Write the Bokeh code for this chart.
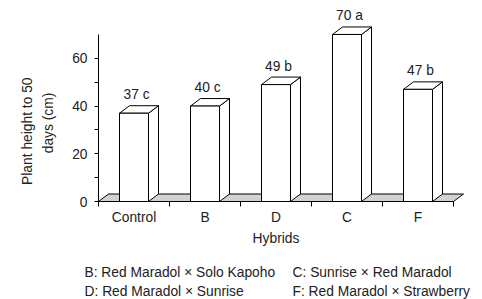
import math
from bokeh.plotting import figure
from bokeh.models import ColumnDataSource, FixedTicker, Range1d
from bokeh.core.properties import value
from bokeh.embed import file_html
from bokeh.resources import INLINE

# ---- data ----
categories = ["Control", "B", "D", "C", "F"]
heights = [37, 40, 49, 70, 47]
letters = ["c", "c", "b", "a", "b"]
y_ticks = [0, 20, 40, 60]
y_minor = [10, 30, 50]
y_title = ["Plant height to 50", "days (cm)"]
x_title = "Hybrids"
notes = ["B: Red Maradol \u00d7 Solo Kapoho", "C: Sunrise \u00d7 Red Maradol",
         "D: Red Maradol \u00d7 Sunrise", "F: Red Maradol \u00d7 Strawberry"]

# ---- layout (pixel geometry) ----
FONT = "Liberation Sans"
FS = "13.8px"
TXT = "#222222"
W, H = 482, 299
X0, Y0 = 98.0, 201.0          # page position of data origin
pxx, pxy = 71.0, 2.386        # pixels per data unit
x_start, x_end = -X0 / pxx, (W - X0) / pxx
y_start, y_end = -(H - Y0) / pxy, Y0 / pxy
DX = 10 / pxx
DY = 7.5 / pxy
BW = 29 / pxx

def dx_of(page_x):
    return (page_x - X0) / pxx

def dy_of(page_y):
    return (Y0 - page_y) / pxy

p = figure(width=W, height=H, output_backend="svg", toolbar_location=None,
           x_range=Range1d(x_start, x_end), y_range=Range1d(y_start, y_end),
           min_border=0, min_border_left=0, min_border_right=0,
           min_border_top=0, min_border_bottom=0)
p.outline_line_color = None
p.grid.visible = False
p.background_fill_color = "white"
p.border_fill_color = "white"

n = len(categories)
centers = [i + 0.5 for i in range(n)]

# floor
p.patch([0, DX, n + DX, n], [0, DY, DY, 0], fill_color="#d2d2d2",
        line_color="black", line_width=1)

# bars (side, top, front)
side_xs, side_ys, top_xs, top_ys = [], [], [], []
for c, h in zip(centers, heights):
    x0, x1 = c - BW / 2, c + BW / 2
    side_xs.append([x1, x1 + DX, x1 + DX, x1])
    side_ys.append([0, DY, h + DY, h])
    top_xs.append([x0, x0 + DX, x1 + DX, x1])
    top_ys.append([h, h + DY, h + DY, h])
p.patches(side_xs, side_ys, fill_color="white", line_color="black", line_width=1)
p.patches(top_xs, top_ys, fill_color="white", line_color="black", line_width=1)
src = ColumnDataSource(dict(x=centers, top=heights,
                            lx=[c + 2.5 / pxx for c in centers],
                            ly=[h + DY + 11.0 / pxy for h in heights],
                            lab=[f"{h} {l}" for h, l in zip(heights, letters)]))
p.vbar(x="x", top="top", bottom=0, width=BW, source=src, fill_color="white",
       line_color="black", line_width=1)
p.text(x="lx", y="ly", text="lab", source=src, text_align="center",
       text_baseline="alphabetic", text_font=value(FONT),
       text_font_size=FS, text_color=TXT)

# axes at fixed data locations
xa = p.xaxis[0]
xa.fixed_location = 0
xa.bounds = (0, n)
xa.ticker = FixedTicker(ticks=centers, minor_ticks=list(range(n + 1)))
xa.major_label_overrides = {c: name for c, name in zip(centers, categories)}
xa.major_tick_out = 0
xa.major_tick_in = 0
xa.minor_tick_out = 5
xa.minor_tick_in = 0
xa.major_label_standoff = 3
xa.axis_label = x_title
xa.axis_label_standoff = 3
xa.axis_label_text_font_style = "normal"

ya = p.yaxis[0]
ya.fixed_location = 0
ya.bounds = (0, 70)
ya.ticker = FixedTicker(ticks=y_ticks, minor_ticks=y_minor)
ya.major_tick_out = 4
ya.major_tick_in = 0
ya.minor_tick_out = 4
ya.minor_tick_in = 0
ya.major_label_standoff = 7

for ax in (xa, ya):
    ax.axis_line_color = "black"
    ax.major_tick_line_color = "black"
    ax.minor_tick_line_color = "black"
    ax.major_label_text_font = FONT
    ax.major_label_text_font_size = FS
    ax.major_label_text_color = TXT
    ax.axis_label_text_font = FONT
    ax.axis_label_text_font_size = FS
    ax.axis_label_text_color = TXT

# y title (two rotated lines)
p.text(x=[dx_of(26.5), dx_of(48)], y=[dy_of(130.7), dy_of(122.5)], text=y_title,
       angle=math.pi / 2, text_align="center", text_baseline="middle",
       text_font=value(FONT), text_font_size=FS, text_color=TXT)

# footnotes
note_x = [dx_of(84), dx_of(292), dx_of(84), dx_of(292)]
note_y = [dy_of(271.8), dy_of(271.8), dy_of(291.0), dy_of(291.0)]
p.text(x=note_x, y=note_y, text=notes, text_align="left",
       text_baseline="alphabetic", text_font=value(FONT),
       text_font_size=FS, text_color=TXT)

open("out.html", "w").write(file_html(p, INLINE))
